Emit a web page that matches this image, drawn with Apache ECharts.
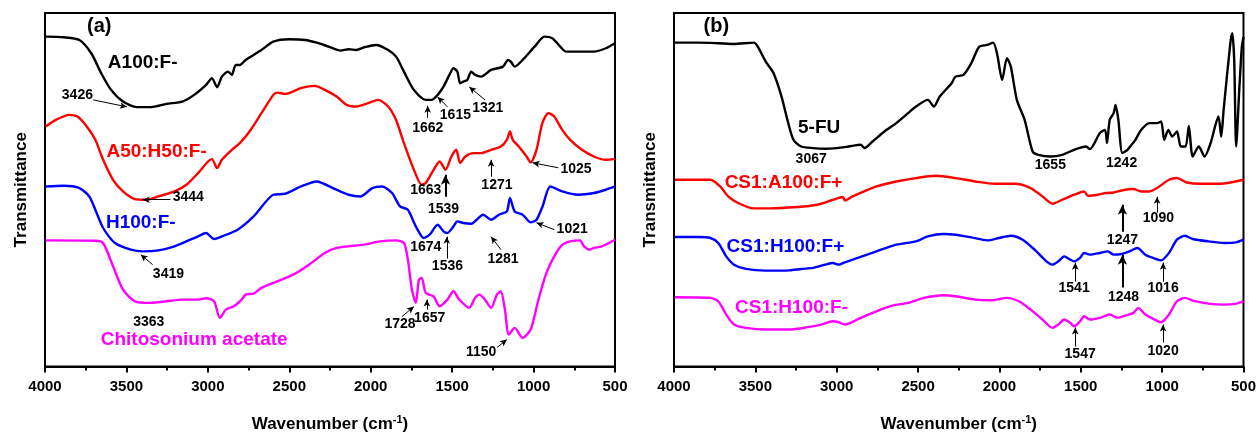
<!DOCTYPE html>
<html><head><meta charset="utf-8">
<script src="https://cdn.jsdelivr.net/npm/echarts@6/dist/echarts.min.js"></script>
<style>html,body{margin:0;padding:0;background:#fff}#c{width:1259px;height:438px}</style>
</head><body><div id="c"></div>
<script>
// ---- tick labels ----
const xTicks = [4000, 3500, 3000, 2500, 2000, 1500, 1000, 500];
// ---- panel (a) spectra: [wavenumber, transmittance (arb.)] ----
const A100_Fminus = [[3995,330.3],[3886,329.7],[3789,327],[3716,313.7],[3655,293.7],[3594,277],[3521,265.3],[3436,259.7],[3351,259.7],[3254,263],[3157,265.3],[3084,272],[3011,282],[2975,288.7],[2943,279.7],[2914,290.3],[2877,295.3],[2853,292],[2829,302],[2804,302],[2768,307],[2671,317],[2598,325.3],[2501,327.7],[2403,327],[2331,324.3],[2258,320.3],[2185,316.3],[2136,317.7],[2088,317],[2039,319.7],[1966,322],[1893,317],[1844,310.3],[1796,295.3],[1735,277],[1662,267],[1626,267],[1589,272],[1553,280.3],[1517,292],[1492,298.7],[1468,295.3],[1451,283.7],[1431,285.3],[1407,287],[1383,295.3],[1359,292],[1322,290.3],[1261,297],[1188,300.3],[1157,307],[1140,305.3],[1116,300.3],[1067,307],[994,320.3],[933,330.3],[885,328.7],[836,320.3],[800,315.3],[727,315.3],[629,315.3],[556,318.7],[500,323.7]];
const A50H50_Fminus = [[3995,240.3],[3934,247],[3849,252],[3801,250.3],[3752,242],[3691,227],[3643,207],[3582,187],[3521,175.3],[3448,167.7],[3376,167],[3303,170.3],[3205,175.3],[3132,182],[3060,193.7],[2999,205.3],[2975,207.7],[2943,198.7],[2914,207],[2853,217],[2804,223.7],[2744,235.3],[2671,253.7],[2598,272],[2574,274.3],[2525,273],[2428,278.7],[2343,281],[2282,277],[2209,270.3],[2148,262],[2088,260.3],[2015,263.7],[1954,267],[1893,260.3],[1845,247],[1796,223.7],[1735,197],[1687,182],[1662,183.7],[1614,197],[1577,205.3],[1541,197],[1504,210.3],[1475,217],[1451,203.7],[1419,210.3],[1371,213.7],[1322,213.7],[1261,217],[1201,220.3],[1164,227],[1145,235.3],[1128,227],[1091,220.3],[1043,210.3],[1018,204.3],[982,217],[946,243.7],[909,253.7],[873,250.3],[824,237],[775,227],[703,217],[630,210.3],[557,207],[500,207.7]];
const H100_Fminus = [[3995,180.3],[3886,181],[3789,178.7],[3728,170.3],[3691,157],[3643,138.7],[3570,123.7],[3473,117],[3400,115.3],[3303,116.3],[3205,120.3],[3108,127],[3060,130.3],[3011,133.7],[2962,127.7],[2914,130.3],[2817,137],[2719,150.3],[2598,172],[2525,173],[2428,180.3],[2331,185.3],[2233,178.7],[2136,172],[2063,170.3],[1990,178.7],[1930,180.3],[1869,173.7],[1820,160.3],[1772,157],[1723,140.3],[1674,128.7],[1638,132],[1589,142],[1553,135.3],[1529,133.7],[1492,140.3],[1468,145.3],[1431,143.7],[1383,143],[1310,152],[1261,147],[1213,152],[1164,155.3],[1145,168.7],[1116,155.3],[1067,152],[1018,144.3],[982,147],[945,160.3],[897,180.3],[824,175.3],[727,172],[630,173.7],[557,177],[500,180.3]];
const Chitosonium_acetate = [[3995,126.3],[3691,126],[3643,123.7],[3582,100.3],[3521,77],[3448,65.3],[3351,63.7],[3254,65.3],[3157,67],[3060,67],[3011,68.3],[2962,65.3],[2926,48.7],[2889,57],[2841,60.3],[2792,67],[2768,72],[2719,73],[2671,78.7],[2574,85.3],[2476,92],[2379,102],[2282,113.7],[2209,118.7],[2136,120.3],[2039,122],[1942,125.3],[1845,126.3],[1796,123.7],[1772,107],[1747,77],[1723,63.7],[1704,87],[1687,88.7],[1662,73.7],[1614,70.3],[1577,60.3],[1529,67],[1492,75.3],[1456,67],[1395,58.7],[1359,68.7],[1334,72],[1298,67],[1261,58.7],[1225,72],[1201,75.3],[1176,57],[1152,32],[1116,38.7],[1067,28.7],[1018,37],[970,67],[921,93.7],[873,110.3],[824,121.7],[775,125.3],[715,126.3],[690,120.3],[654,117],[630,118.7],[581,120.3],[500,127]];
// ---- panel (b) spectra ----
const FU5 = [[3995,324.3],[3849,324.3],[3728,323.7],[3631,323],[3509,324.3],[3485,320.3],[3436,305.3],[3388,293.7],[3339,270.3],[3303,247],[3266,227],[3218,220.3],[3145,218.7],[3072,218],[2999,218.7],[2926,220.3],[2853,222],[2829,218.7],[2780,225.3],[2707,235.3],[2634,243.7],[2561,253.7],[2513,260.3],[2440,267],[2403,260.3],[2367,270.3],[2294,283.7],[2270,290.3],[2221,292],[2173,303.7],[2124,320.3],[2075,322],[2039,324.3],[2015,313.7],[1983,287],[1954,308.7],[1930,300.3],[1893,267],[1845,247],[1796,215.3],[1760,212],[1687,210.3],[1614,212],[1541,217],[1468,220.3],[1444,217.7],[1383,233.7],[1351,237],[1339,223.7],[1322,247],[1298,253.7],[1286,262],[1269,247],[1244,213.7],[1213,217],[1188,222],[1164,227],[1128,237],[1079,243.7],[1031,243.7],[1006,245.3],[987,227],[962,237],[938,230.3],[909,235.3],[885,220.3],[856,220.3],[836,241],[812,210.3],[775,220.3],[739,210.3],[702,223.7],[654,250.3],[637,230.3],[622,257],[581,323.7],[569,333.7],[557,307],[545,220.3],[525,280],[510,320],[500,330]];
const CS1A100_Fplus = [[3995,187],[3776,187],[3716,180.3],[3667,170.3],[3606,163.7],[3509,158.3],[3412,158.3],[3242,159.7],[3120,162],[3023,167],[2962,169.7],[2950,166.3],[2902,170.3],[2756,180.3],[2634,185.3],[2513,188.7],[2391,191],[2270,188.7],[2148,185.3],[2027,183],[1905,183],[1808,178.7],[1735,170.3],[1674,163],[1614,167],[1541,172],[1480,175.3],[1456,171],[1395,172],[1346,173.7],[1298,174.3],[1249,176.3],[1176,177.7],[1128,175.3],[1079,175.3],[1031,178.7],[958,187],[909,188.7],[848,184.3],[763,183],[642,183],[500,187]];
const CS1H100_Fplus = [[3995,129.7],[3849,129.7],[3776,128.7],[3728,123.7],[3679,110.3],[3631,102],[3558,97.7],[3436,96],[3290,96.3],[3218,97.7],[3145,98.7],[3072,102],[3023,103.7],[2987,102],[2950,104.3],[2853,109.7],[2756,115.3],[2634,122],[2513,125.3],[2440,130.3],[2343,132.7],[2270,132],[2173,129.3],[2075,126.3],[2003,128.7],[1930,131],[1857,127],[1784,117],[1711,105.3],[1674,102],[1638,105.3],[1602,110.3],[1565,107],[1541,105.3],[1504,108.7],[1480,113.7],[1444,112],[1383,113.7],[1334,115.3],[1298,112],[1249,112.7],[1201,115.3],[1152,118.7],[1103,112],[1055,108.7],[1006,106.3],[958,113.7],[909,127],[860,131],[812,127.7],[715,125.3],[617,123.7],[545,124.3],[500,127]];
const CS1H100_Fminus = [[3995,69.3],[3776,68.7],[3728,65.3],[3679,52],[3631,42],[3558,38.7],[3436,37],[3290,37],[3169,39.7],[3096,42],[3023,45.3],[2987,44.3],[2950,42],[2853,48.7],[2756,55.3],[2659,61],[2561,63.7],[2464,68.7],[2343,71.3],[2270,70.3],[2148,67],[2051,66.3],[1954,68.7],[1881,65.3],[1808,57],[1735,47],[1674,38.7],[1638,42],[1602,47],[1565,43.7],[1541,40.3],[1504,45.3],[1480,50.3],[1444,47],[1383,48.7],[1322,52],[1274,48.7],[1225,51],[1176,53.7],[1147,58.7],[1103,52],[1055,47.7],[1006,44.3],[958,52],[909,65.3],[860,68.7],[812,66],[715,63],[617,62],[545,63],[500,65.3]];

// ---- names ----
const namesA = ['A100:F-', 'A50:H50:F-', 'H100:F-', 'Chitosonium acetate'];
const namesB = ['5-FU', 'CS1:A100:F+', 'CS1:H100:F+', 'CS1:H100:F-'];
// ---- annotation texts: [text, wavenumber, transmittance, seriesIndex / -1 panel tag / -2 peak label] ----
const textA = [['(a)',3667,340,-1],['A100:F-',3400,304,0],['A50:H50:F-',3315,215,1],['H100:F-',3412,144,2],['Chitosonium acetate',3084,27,3],
 ['3426',3801,272,-2],['1662',1650,239,-2],['1615',1480,252,-2],['1321',1281,259,-2],['3444',3120,170,-2],['1663',1662,177,-2],['1539',1553,158,-2],['1271',1225,182,-2],['1025',739,198,-2],['3419',3242,92,-2],['1674',1662,120,-2],['1536',1529,101,-2],['1281',1188,108,-2],['1021',763,138,-2],['3363',3363,44,-2],['1728',1820,42,-2],['1657',1638,48,-2],['1150',1322,14,-2]];
const textB = [['(b)',3740,340,-1],['5-FU',3108,239,0],['CS1:A100:F+',3327,184,1],['CS1:H100:F+',3315,120,2],['CS1:H100:F-',3278,59,3],
 ['3067',3157,208,-2],['1655',1687,202,-2],['1242',1249,204,-2],['1247',1244,127,-2],['1090',1023,149,-2],['1541',1541,78,-2],['1248',1237,69,-2],['1016',994,78,-2],['1547',1504,12,-2],['1020',994,15,-2]];
// ---- annotation arrows: [fromWn, fromT, toWn, toT, bold] ----
const arrowsA = [[3704,267,3497,260,0],[1650,249,1650,261,0],[1529,260,1589,270,0],[1298,267,1395,280,0],[3230,167,3400,167,0],[1541,170,1541,192,1],[1261,190,1261,207,0],[848,199,1006,204,0],[3339,102,3412,112,0],[1533,108,1533,130,0],[1200,117,1261,130,0],[873,137,982,144,0],[1808,50,1735,60,0],[1655,57,1655,67,0],[1225,19,1164,27,0]];
const arrowsB = [[1244,135,1244,162,1],[1031,154,1031,170,0],[1534,85,1534,104,0],[1244,79,1244,112,1],[994,85,994,104,0],[1534,20,1534,39,0],[994,24,994,42,0]];

const colors = ['#000000', '#ff0000', '#0000ff', '#ff00ff'];
const FONT = '"Liberation Sans", Arial, sans-serif';

function xAxisCfg(gi) {
  return {
    gridIndex: gi, type: 'value', inverse: true, min: 500, max: 4000, interval: 500,
    name: 'Wavenumber (cm{sup|-1})', nameLocation: 'middle', nameGap: 48,
    nameTextStyle: { color: '#000', fontSize: 17, fontWeight: 'bold', fontFamily: FONT,
      rich: { sup: { fontSize: 11, fontWeight: 'bold', fontFamily: FONT, color: '#000', padding: [0, 0, 9, 0] } } },
    axisLine: { show: true, lineStyle: { color: '#000', width: 2 } },
    axisTick: { show: true, inside: false, length: 6, lineStyle: { color: '#000', width: 2 } },
    minorTick: { show: true, splitNumber: 2, length: 4, lineStyle: { color: '#000', width: 2 } },
    axisLabel: { color: '#000', fontSize: 15, fontWeight: 'bold', fontFamily: FONT, margin: 13,
      formatter: v => xTicks.indexOf(v) >= 0 ? String(v) : '' },
    splitLine: { show: false }
  };
}
function yAxisCfg(gi) {
  return {
    gridIndex: gi, type: 'value', min: 0, max: 354,
    name: 'Transmittance', nameLocation: 'middle', nameGap: 15, nameRotate: 90,
    nameTextStyle: { color: '#000', fontSize: 17, fontWeight: 'bold', fontFamily: FONT },
    axisLine: { show: true, lineStyle: { color: '#000', width: 2 } },
    axisTick: { show: false }, axisLabel: { show: false }, splitLine: { show: false }
  };
}
function curve(name, data, ci, gi, arrows) {
  const s = {
    name, type: 'line', xAxisIndex: gi, yAxisIndex: gi, data, showSymbol: false, symbol: 'none',
    smooth: 0.25, lineStyle: { color: colors[ci], width: 2.4 }, itemStyle: { color: colors[ci] }, z: 3
  };
  if (arrows) {
    s.markLine = {
      silent: true, animation: false, symbol: ['none', 'arrow'],
      label: { show: false }, emphasis: { disabled: true },
      data: arrows.map(a => [
        { coord: [a[0], a[1]], lineStyle: { color: '#000', width: a[4] ? 2 : 1, type: 'solid' }, symbol: 'none' },
        { coord: [a[2], a[3]], symbol: 'arrow', symbolSize: a[4] ? [7, 10] : [5, 7] }
      ])
    };
  }
  return s;
}
function texts(list, gi) {
  return {
    type: 'scatter', xAxisIndex: gi, yAxisIndex: gi, symbolSize: 1, silent: true, z: 5,
    itemStyle: { color: '#fff', opacity: 1 },
    data: list.map(t => ({
      value: [t[1], t[2]], name: t[0],
      label: {
        show: true, position: 'inside', formatter: t[0], fontFamily: FONT, fontWeight: 'bold',
        color: t[3] >= 0 ? colors[t[3]] : '#000', textBorderWidth: 0, opacity: 1,
        fontSize: t[3] === -1 ? 20 : (t[3] >= 0 ? 19 : 14)
      }
    }))
  };
}

const chart = echarts.init(document.getElementById('c'), null, { renderer: 'canvas' });
chart.setOption({
  animation: false,
  backgroundColor: '#fff',
  grid: [
    { left: 45, right: 644, top: 13, bottom: 71, show: true, borderColor: '#000', borderWidth: 2, containLabel: false },
    { left: 674, right: 15, top: 13, bottom: 71, show: true, borderColor: '#000', borderWidth: 2, containLabel: false }
  ],
  xAxis: [xAxisCfg(0), xAxisCfg(1)],
  yAxis: [yAxisCfg(0), yAxisCfg(1)],
  series: [
    curve(namesA[0], A100_Fminus, 0, 0, arrowsA),
    curve(namesA[1], A50H50_Fminus, 1, 0),
    curve(namesA[2], H100_Fminus, 2, 0),
    curve(namesA[3], Chitosonium_acetate, 3, 0),
    curve(namesB[0], FU5, 0, 1, arrowsB),
    curve(namesB[1], CS1A100_Fplus, 1, 1),
    curve(namesB[2], CS1H100_Fplus, 2, 1),
    curve(namesB[3], CS1H100_Fminus, 3, 1),
    texts(textA, 0),
    texts(textB, 1)
  ]
});
</script></body></html>
